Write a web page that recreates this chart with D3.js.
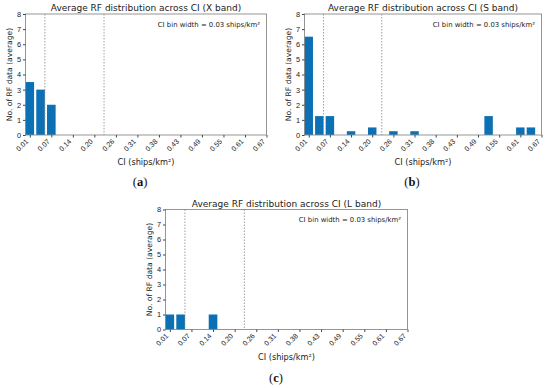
<!DOCTYPE html>
<html><head><meta charset="utf-8">
<script src="https://cdn.jsdelivr.net/npm/d3@7"></script>
<style>
body{margin:0;background:#fff;}
svg{display:block;font-family:"DejaVu Sans",sans-serif;}
</style></head>
<body>
<svg id="c" width="550" height="388"></svg>
<script>
// Tick labels (every second CI bin)
const tickLabels = ["0.01","0.07","0.14","0.20","0.26","0.31","0.38","0.43","0.49","0.55","0.61","0.67"];
const yTicks = [0,1,2,3,4,5,6,7,8];
// bin index of each non-empty bar, and its average RF count
const xBins = [0,1,2];
const xValues = [3.5,3.0,2.0];
const sBins = [0,1,2,4,6,8,10,17,20,21];
const sValues = [6.5,1.25,1.25,0.25,0.5,0.25,0.25,1.25,0.5,0.5];
const lBins = [0,1,4];
const lValues = [1,1,1];
// threshold lines in bin-index units
const thresholds = [1.4,6.9];
const titles = ["Average RF distribution across CI (X band)","Average RF distribution across CI (S band)","Average RF distribution across CI (L band)"];
const panelLabels = ["a","b","c"];

const svg = d3.select("#c");
const panels = [
  {bins:xBins, vals:xValues, title:titles[0], lab:panelLabels[0], x0:25.5, x1:266.5, y0:14, y1:135, lx:140, ly:186},
  {bins:sBins, vals:sValues, title:titles[1], lab:panelLabels[1], x0:304.5, x1:541.5, y0:14, y1:135, lx:412, ly:186},
  {bins:lBins, vals:lValues, title:titles[2], lab:panelLabels[2], x0:165.5, x1:407.5, y0:209.5, y1:329.5, lx:276, ly:382}
];

panels.forEach(p => {
  const x = d3.scaleLinear().domain([-0.4, 22]).range([p.x0, p.x1]);
  const y = d3.scaleLinear().domain([0, 8]).range([p.y1, p.y0]);
  const g = svg.append("g");
  const bw = x(0.8) - x(0);
  g.selectAll("rect.bar").data(p.bins.map((b,i)=>({b, v:p.vals[i]}))).join("rect")
    .attr("x", d => x(d.b - 0.4)).attr("width", bw)
    .attr("y", d => y(d.v)).attr("height", d => y(0) - y(d.v))
    .attr("fill", "#0b70b4");
  g.selectAll("line.th").data(thresholds).join("line")
    .attr("x1", d => x(d)).attr("x2", d => x(d))
    .attr("y1", p.y0).attr("y2", p.y1)
    .attr("stroke", "#888").attr("stroke-width", 0.8).attr("stroke-dasharray", "1.5,1.5");
  g.append("rect").attr("x", p.x0).attr("y", p.y0).attr("width", p.x1 - p.x0).attr("height", p.y1 - p.y0)
    .attr("fill", "none").attr("stroke", "#8a8a8a").attr("stroke-width", 0.9);
  const ya = d3.axisLeft(y).tickValues(yTicks).tickFormat(d3.format("d")).tickSize(2.5).tickPadding(2);
  const yg = g.append("g").attr("transform", `translate(${p.x0},0)`).call(ya);
  yg.select(".domain").remove();
  yg.selectAll("text").attr("font-size", 7.4).attr("fill", "#222");
  yg.selectAll("line").attr("stroke", "#444");
  const tickIdx = tickLabels.map((t,i)=>i*2);
  const xa = d3.axisBottom(x).tickValues(tickIdx).tickFormat((d,i)=>tickLabels[i]).tickSize(2.5);
  const xg = g.append("g").attr("class", "xax").attr("transform", `translate(0,${p.y1})`).call(xa);
  xg.select(".domain").remove();
  xg.selectAll("line").attr("stroke", "#444");
  xg.selectAll("text").attr("font-size", 7.1).attr("fill", "#222")
    .attr("text-anchor", "end").attr("y", 0).attr("x", 0).attr("dy", "0.7em")
    .attr("transform", "translate(-5,3.5) rotate(-45)");
  g.append("text").attr("x", (p.x0 + p.x1)/2).attr("y", p.y0 - 3).attr("text-anchor", "middle")
    .attr("font-size", 9).attr("fill", "#222").text(p.title);
  g.append("text").attr("transform", `translate(${p.x0 - 14},${(p.y0+p.y1)/2}) rotate(-90)`)
    .attr("text-anchor", "middle").attr("font-size", 7.6).attr("fill", "#222").text("No. of RF data (average)");
  g.append("text").attr("x", (p.x0 + p.x1)/2).attr("y", p.y1 + 30).attr("text-anchor", "middle")
    .attr("font-size", 8.2).attr("fill", "#222").text("CI (ships/km²)");
  g.append("text").attr("x", p.x1 - 6.5).attr("y", p.y0 + 12.5).attr("text-anchor", "end")
    .attr("font-size", 6.9).attr("fill", "#222").text("CI bin width = 0.03 ships/km²");
  const t = svg.append("text").attr("x", p.lx).attr("y", p.ly).attr("text-anchor", "middle")
    .attr("font-family", "Liberation Serif, serif").attr("font-size", 12.5).attr("fill", "#111");
  t.append("tspan").text("(");
  t.append("tspan").attr("font-weight", "bold").text(p.lab);
  t.append("tspan").text(")");
});
</script>
</body></html>
